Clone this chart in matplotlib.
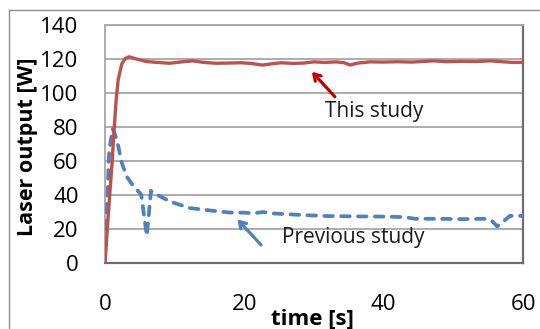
import matplotlib
matplotlib.use("Agg")
import matplotlib.pyplot as plt
from matplotlib.lines import Line2D

# ---- data ----
t_this = [0, 0.5, 1.0, 1.3, 1.6, 1.9, 2.4, 2.9, 3.5, 4.5, 6.0, 7.5, 9.3, 11.0, 12.6,
          14.2, 15.9, 17.5, 19.5, 21.0, 22.6, 24.0, 25.3, 27.0, 28.5, 30.0, 31.5,
          33.2, 34.3, 35.2, 36.3, 38.0, 40.0, 42.0, 44.0, 45.5, 47.2, 49.0, 51.0,
          53.0, 55.3, 57.0, 58.5, 60.0]
p_this = [0, 30, 58, 78, 96, 108, 117, 120.3, 121.3, 120.0, 118.5, 118.0, 117.5, 118.3,
          118.9, 118.0, 117.5, 117.6, 117.8, 117.4, 116.4, 117.2, 117.8, 117.4, 117.6,
          118.3, 118.0, 118.3, 117.8, 116.5, 117.6, 118.3, 118.2, 118.4, 118.2, 118.5,
          118.9, 118.4, 118.6, 118.5, 118.9, 118.4, 118.0, 118.0]

t_prev = [0, 0.6, 1.1, 1.7, 2.4, 3.1, 4.1, 5.0, 5.2, 6.0, 6.6, 6.9, 8.4, 9.3, 12.2,
          15.1, 17.9, 20.0, 21.3, 22.7, 24.0, 26.5, 29.0, 32.0, 34.7, 37.0, 40.0,
          43.0, 44.5, 48.0, 51.0, 54.5, 55.5, 56.3, 57.2, 58.1, 60.0]
p_prev = [0, 66, 79, 72.7, 59, 51, 45, 41.2, 40.0, 16.0, 42.5, 41.2, 38.2, 36.2, 32.3,
          30.9, 29.7, 29.6, 29.2, 30.0, 29.2, 28.6, 28.1, 27.6, 27.5, 27.4, 27.3,
          27.0, 26.0, 26.0, 25.8, 26.0, 25.0, 21.5, 24.5, 27.7, 27.7]

x_ticks = [0, 20, 40, 60]
y_ticks = [0, 20, 40, 60, 80, 100, 120, 140]

label_this = "This study"
label_prev = "Previous study"

# ---- figure ----
plt.rcParams['font.family'] = ['Open Sans', 'DejaVu Sans']
fig = plt.figure(figsize=(5.4, 3.29), dpi=100)
ax = fig.add_axes([105/540, 1-263/329, (523-105)/540, (263-25)/329])

ax.set_xlim(0, 60)
ax.set_ylim(0, 140)
ax.set_xticks(x_ticks)
ax.set_yticks(y_ticks)
ax.tick_params(axis='both', length=0, labelsize=16, colors='black')
ax.tick_params(axis='y', pad=19)
ax.tick_params(axis='x', pad=22)

ax.grid(axis='y', color='#A6A6A6', lw=1.3)
ax.set_axisbelow(True)
ax.spines['top'].set_color('#A6A6A6')
ax.spines['top'].set_linewidth(1.3)
ax.spines['left'].set_color('#A6A6A6')
ax.spines['left'].set_linewidth(1.3)
for s in ['right', 'bottom']:
    ax.spines[s].set_color('#6E6E6E')
    ax.spines[s].set_linewidth(1.6)

ax.plot(t_prev, p_prev, color='#4F81BD', lw=2.7, linestyle=(0, (2.3, 2.2)),
        dash_capstyle='round', solid_joinstyle='round', zorder=3)
ax.plot(t_this, p_this, color='#C0504D', lw=2.4, solid_capstyle='round',
        solid_joinstyle='round', zorder=4)

# annotations
ax.annotate('', xy=(29.7, 112.5), xytext=(33.0, 97.8),
            arrowprops=dict(arrowstyle='->,head_length=0.45,head_width=0.28',
                            color='#C00000', lw=2.3, shrinkA=0, shrinkB=0,
                            capstyle='round', joinstyle='round'))
ax.text(31.6, 89, label_this, fontsize=15, color='#1A1A1A', ha='left', va='center')

ax.annotate('', xy=(19.0, 25.7), xytext=(22.4, 10.6),
            arrowprops=dict(arrowstyle='->,head_length=0.45,head_width=0.28',
                            color='#4F81BD', lw=2.3, shrinkA=0, shrinkB=0,
                            capstyle='round', joinstyle='round'))
ax.text(25.4, 14.8, label_prev, fontsize=15, color='#1A1A1A', ha='left', va='center')

fig.text(27.5/540, 1-147/329, 'Laser output [W]', rotation=90, ha='center', va='center',
         fontsize=15.5, fontweight='bold')
fig.text(312/540, 1-324/329, 'time [s]', ha='center', va='baseline',
         fontsize=16, fontweight='bold')

# outer chart-area border (left and top visible)
bx, by = 8.5/540, 1-9.5/329
fig.add_artist(Line2D([bx, bx], [0, by], transform=fig.transFigure, color='#8C8C8C', lw=1.0))
fig.add_artist(Line2D([bx, 1], [by, by], transform=fig.transFigure, color='#8C8C8C', lw=1.0))

fig.savefig('out.png', dpi=100)
